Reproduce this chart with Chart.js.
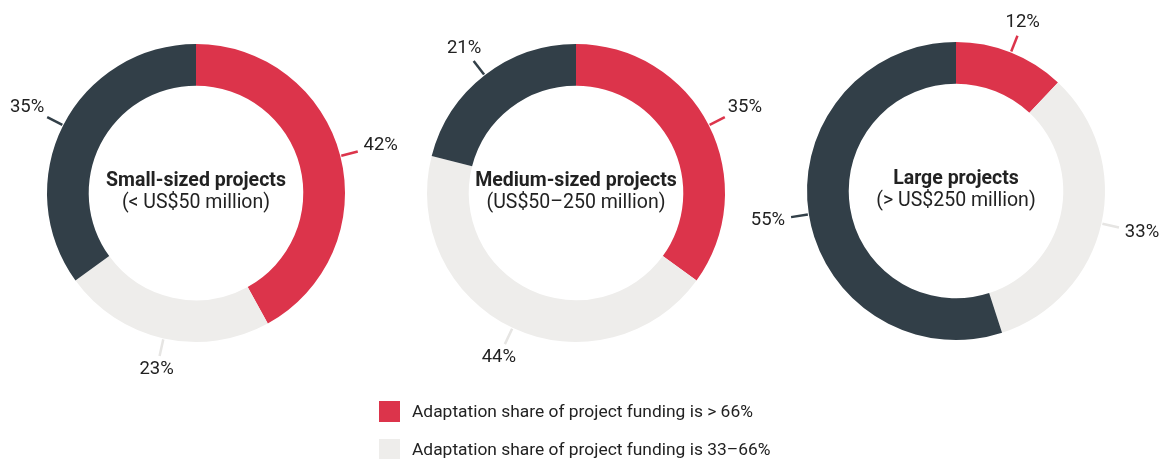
<!DOCTYPE html>
<html>
<head>
<meta charset="utf-8">
<script src="https://cdn.jsdelivr.net/npm/chart.js@4.4.0/dist/chart.umd.min.js"></script>
<style>
  html, body { margin: 0; padding: 0; background: #fff; overflow: hidden; }
  body { width: 1160px; height: 459px; position: relative; font-family: Roboto, "Noto Sans", sans-serif; }
  .pie { position: absolute; }
  .legend { position: absolute; left: 379px; top: 400px; color: #222; font-size: 17.4px; }
  .legend div { display: flex; align-items: center; height: 22px; margin-bottom: 16px; }
  .legend span.box { display: inline-block; width: 21px; height: 21px; margin-right: 12px; }
</style>
</head>
<body>
<canvas id="c0" class="pie" width="420" height="386" style="left:-14px; top:0px"></canvas>
<canvas id="c1" class="pie" width="420" height="386" style="left:366px; top:0px"></canvas>
<canvas id="c2" class="pie" width="420" height="386" style="left:746px; top:-2px"></canvas>
<div class="legend">
  <div><span class="box" style="background:#dc344b"></span>Adaptation share of project funding is &gt; 66%</div>
  <div><span class="box" style="background:#eeedeb"></span>Adaptation share of project funding is 33–66%</div>
</div>
<script>
const titles = ["Small-sized projects", "Medium-sized projects", "Large projects"];
const subtitles = ["(< US$50 million)", "(US$50–250 million)", "(> US$250 million)"];
const shareHigh = [42, 35, 12];   // > 66%
const shareMid = [23, 44, 33];    // 33–66%
const shareLow = [35, 21, 55];    // < 33%
const segmentColors = ["#dc344b", "#eeedeb", "#323f48"];
const lineColors = ["#dc344b", "#e6e5e3", "#323f48"];

// leader lines + percentage labels, plus the centre caption
const ringLabels = {
    id: "ringLabels",
    afterDatasetsDraw(chart, args, opts) {
        const ctx = chart.ctx;
        const meta = chart.getDatasetMeta(0);
        ctx.save();
        ctx.font = "18.5px Roboto";
        meta.data.forEach((arc, i) => {
            const p = arc.getProps(["x", "y", "startAngle", "endAngle", "outerRadius"], true);
            const mid = (p.startAngle + p.endAngle) / 2;
            const dx = Math.cos(mid), dy = Math.sin(mid);
            const r1 = p.outerRadius + 1, r2 = p.outerRadius + 18;
            ctx.strokeStyle = lineColors[i];
            ctx.lineWidth = 2.5;
            ctx.beginPath();
            ctx.moveTo(p.x + dx * r1, p.y + dy * r1);
            ctx.lineTo(p.x + dx * r2, p.y + dy * r2);
            ctx.stroke();
            const text = chart.data.datasets[0].data[i] + "%";
            const w = ctx.measureText(text).width;
            // push the label box out along the ray until it clears the line end
            const t = Math.min((w / 2) / Math.max(Math.abs(dx), 1e-3), 7.5 / Math.max(Math.abs(dy), 1e-3)) + 6;
            const cx = p.x + dx * (r2 + t);
            const cy = p.y + dy * (r2 + t);
            ctx.fillStyle = "#222";
            ctx.textAlign = "center";
            ctx.textBaseline = "middle";
            ctx.fillText(text, cx, cy);
        });
        const a = meta.data[0];
        ctx.fillStyle = "#222";
        ctx.textAlign = "center";
        ctx.textBaseline = "middle";
        ctx.font = "bold 19.5px Roboto";
        ctx.fillText(opts.title, a.x, a.y - 12);
        ctx.font = "19.5px Roboto";
        ctx.fillText(opts.subtitle, a.x, a.y + 10);
        ctx.restore();
    }
};

titles.forEach((title, k) => {
    new Chart(document.getElementById("c" + k), {
        type: "doughnut",
        data: {
            labels: ["> 66%", "33–66%", "< 33%"],
            datasets: [{
                data: [shareHigh[k], shareMid[k], shareLow[k]],
                backgroundColor: segmentColors,
                borderWidth: 0
            }]
        },
        options: {
            responsive: false,
            animation: false,
            cutout: "72%",
            layout: { padding: { top: 44, bottom: 44 } },
            plugins: {
                legend: { display: false },
                tooltip: { enabled: false },
                ringLabels: { title: title, subtitle: subtitles[k] }
            }
        },
        plugins: [ringLabels]
    });
});
</script>
</body>
</html>
